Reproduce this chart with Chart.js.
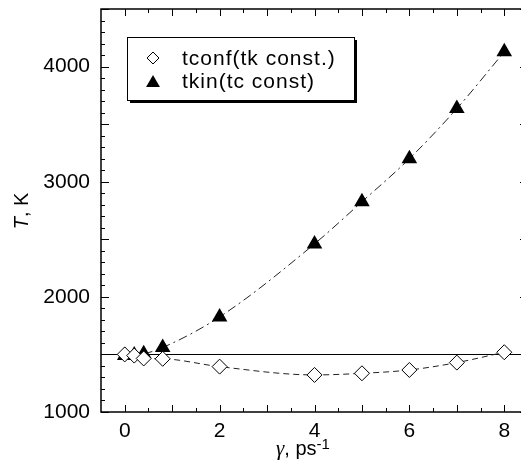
<!DOCTYPE html>
<html>
<head>
<meta charset="utf-8">
<script src="https://cdn.jsdelivr.net/npm/chart.js@4/dist/chart.umd.min.js"></script>
<style>
  html, body { margin: 0; padding: 0; background: #fff; overflow: hidden; }
  canvas { display: block; }
</style>
</head>
<body>
<canvas id="chart" width="530" height="474"></canvas>
<script>
// data
const gammaConf = [0, 0.2, 0.4, 0.8, 2, 4, 5, 6, 7, 8];
const tconf = [1500, 1490, 1465, 1462, 1394, 1322, 1336, 1365, 1429, 1519];
const gammaKin = [0, 0.2, 0.4, 0.8, 2, 4, 5, 6, 7, 8];
const tkin = [1490, 1495, 1505, 1560, 1826, 2460, 2826, 3200, 3635, 4128];
const xTicks = [0, 2, 4, 6, 8];
const yTicks = [1000, 2000, 3000, 4000];
const refT = 1500;

const FONT = '"Liberation Sans", Arial, Helvetica, sans-serif';
const SERIF = '"Liberation Serif", "Times New Roman", serif';

function pts(xs, ys) {
    return xs.map((x, i) => ({ x: x, y: ys[i] }));
}

function noPad(s) {
    s.paddingTop = 0;
    s.paddingBottom = 0;
    s.paddingLeft = 0;
    s.paddingRight = 0;
}

function diamond(ctx, x, y, r) {
    ctx.beginPath();
    ctx.moveTo(x, y - r);
    ctx.lineTo(x + r, y);
    ctx.lineTo(x, y + r);
    ctx.lineTo(x - r, y);
    ctx.closePath();
    ctx.fillStyle = '#fff';
    ctx.fill();
    ctx.strokeStyle = '#000';
    ctx.lineWidth = 1;
    ctx.stroke();
}

function triangle(ctx, x, y, r) {
    ctx.beginPath();
    ctx.moveTo(x, y - r);
    ctx.lineTo(x + r * 0.866, y + r / 2);
    ctx.lineTo(x - r * 0.866, y + r / 2);
    ctx.closePath();
    ctx.fillStyle = '#000';
    ctx.fill();
}

// frame, inward ticks, reference line, legend and axis titles
const decor = {
    id: 'decor',
    beforeDatasetsDraw(chart) {
        const ctx = chart.ctx;
        const a = chart.chartArea;
        const y = chart.scales.y.getPixelForValue(refT);
        ctx.save();
        ctx.strokeStyle = '#000';
        ctx.lineWidth = 1;
        ctx.beginPath();
        ctx.moveTo(a.left, Math.round(y) + 0.5);
        ctx.lineTo(a.right, Math.round(y) + 0.5);
        ctx.stroke();
        ctx.restore();
    },
    afterDraw(chart) {
        const ctx = chart.ctx;
        const a = chart.chartArea;
        const xs = chart.scales.x, ys = chart.scales.y;
        ctx.save();
        ctx.strokeStyle = '#000';
        ctx.lineWidth = 1.5;
        ctx.strokeRect(a.left, a.top, a.right - a.left, a.bottom - a.top);

        ctx.lineWidth = 1;
        ctx.beginPath();
        for (let v = 0; v <= 8.5; v += 0.5) {
            const px = Math.round(xs.getPixelForValue(v)) + 0.5;
            const len = Number.isInteger(v) ? 7 : 4;
            ctx.moveTo(px, a.bottom); ctx.lineTo(px, a.bottom - len);
            ctx.moveTo(px, a.top); ctx.lineTo(px, a.top + len);
        }
        for (let v = 1000; v <= 4500; v += 100) {
            const py = Math.round(ys.getPixelForValue(v)) + 0.5;
            const len = v % 500 === 0 ? 8 : 4;
            ctx.moveTo(a.left, py); ctx.lineTo(a.left + len, py);
            ctx.moveTo(a.right, py); ctx.lineTo(a.right - len, py);
        }
        ctx.stroke();

        // legend box with drop shadow
        const bx = 127, by = 37, bw = 227, bh = 63;
        ctx.fillStyle = '#000';
        ctx.fillRect(bx + 3, by + 3, bw, bh);
        ctx.fillStyle = '#fff';
        ctx.fillRect(bx, by, bw, bh);
        ctx.lineWidth = 1;
        ctx.strokeRect(bx + 0.5, by + 0.5, bw, bh);
        diamond(ctx, 153, 58, 6);
        triangle(ctx, 153, 83, 8);
        ctx.fillStyle = '#000';
        ctx.font = '21px ' + FONT;
        ctx.letterSpacing = '1px';
        ctx.textBaseline = 'middle';
        ctx.textAlign = 'left';
        ctx.fillText(chart.data.datasets[0].label, 182, 59);
        ctx.fillText(chart.data.datasets[1].label, 182, 82);
        ctx.letterSpacing = '0px';

        // y title: italic T, K
        ctx.save();
        ctx.translate(28, 211);
        ctx.rotate(-Math.PI / 2);
        ctx.textBaseline = 'alphabetic';
        ctx.font = 'italic 20px ' + FONT;
        const wT = ctx.measureText('T').width;
        ctx.font = '20px ' + FONT;
        const wR = ctx.measureText(', K').width;
        const sx = -(wT + wR) / 2;
        ctx.textAlign = 'left';
        ctx.font = 'italic 20px ' + FONT;
        ctx.fillText('T', sx, 0);
        ctx.font = '20px ' + FONT;
        ctx.fillText(', K', sx + wT, 0);
        ctx.restore();

        // x title: gamma, ps^-1
        ctx.textBaseline = 'alphabetic';
        ctx.textAlign = 'left';
        ctx.font = 'italic 21px ' + SERIF;
        const wg = ctx.measureText('γ').width;
        ctx.font = '20px ' + FONT;
        const wp = ctx.measureText(', ps').width;
        ctx.font = '15px ' + FONT;
        const ws = ctx.measureText('-1').width;
        const tx = 303 - (wg + wp + ws) / 2;
        ctx.font = 'italic 21px ' + SERIF;
        ctx.fillText('γ', tx, 455);
        ctx.font = '20px ' + FONT;
        ctx.fillText(', ps', tx + wg, 455);
        ctx.font = '15px ' + FONT;
        ctx.fillText('-1', tx + wg + wp, 449);
        ctx.restore();
    }
};

const ctx = document.getElementById('chart').getContext('2d');
const chart = new Chart(ctx, {
    type: 'scatter',
    data: {
        datasets: [{
            label: 'tconf(tk const.)',
            data: pts(gammaConf, tconf),
            showLine: true,
            borderColor: '#222',
            borderWidth: 1,
            borderDash: [6, 4],
            cubicInterpolationMode: 'monotone',
            pointStyle: 'rectRot',
            pointRadius: 7.5,
            pointBackgroundColor: '#fff',
            pointBorderColor: '#000',
            pointBorderWidth: 1
        }, {
            label: 'tkin(tc const)',
            data: pts(gammaKin, tkin),
            showLine: true,
            borderColor: '#222',
            borderWidth: 1,
            borderDash: [9, 4, 2, 4],
            cubicInterpolationMode: 'monotone',
            pointStyle: 'triangle',
            pointRadius: 9,
            pointBackgroundColor: '#000',
            pointBorderColor: '#000',
            pointBorderWidth: 0
        }]
    },
    options: {
        responsive: false,
        animation: false,
        // canvas is wider than the window: the right frame falls just off-screen, as in the original
        layout: { autoPadding: false, padding: { left: 0, right: 2, top: 9, bottom: 0 } },
        plugins: {
            legend: { display: false },
            tooltip: { enabled: false }
        },
        scales: {
            x: {
                type: 'linear',
                min: -0.5,
                max: 8.5,
                afterBuildTicks: (s) => { s.ticks = xTicks.map(v => ({ value: v })); },
                afterFit: (s) => { s.height = 62; noPad(s); },
                grid: { display: false, drawTicks: false },
                border: { display: false },
                ticks: {
                    color: '#000', font: { family: FONT, size: 21 }, padding: 7, maxRotation: 0,
                    callback: (v) => String(v)
                }
            },
            y: {
                min: 1000,
                max: 4500,
                afterBuildTicks: (s) => { s.ticks = yTicks.map(v => ({ value: v })); },
                afterFit: (s) => { s.width = 101; noPad(s); },
                grid: { display: false, drawTicks: false },
                border: { display: false },
                ticks: {
                    color: '#000', font: { family: FONT, size: 21 }, padding: 11,
                    callback: (v) => String(v)
                }
            }
        }
    },
    plugins: [decor]
});
</script>
</body>
</html>
